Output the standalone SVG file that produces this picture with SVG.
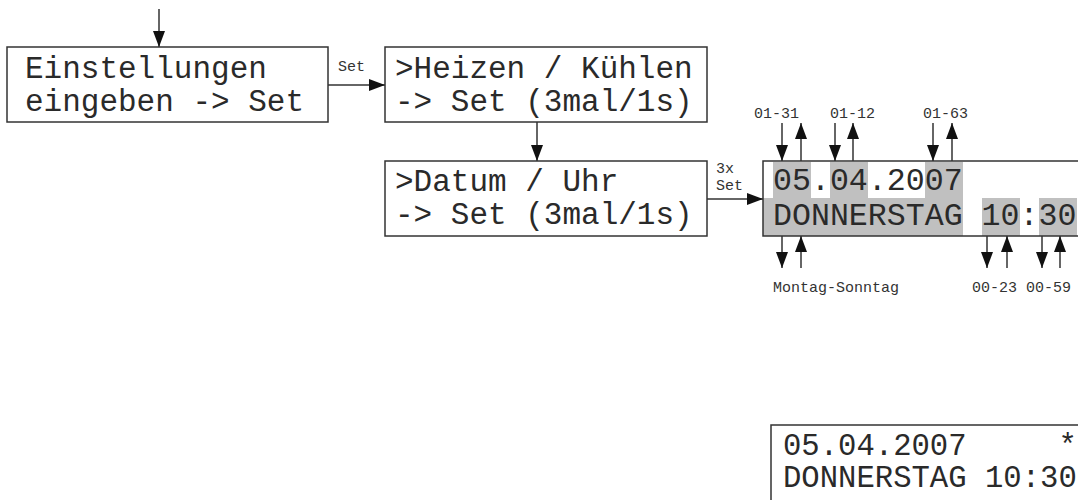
<svg xmlns="http://www.w3.org/2000/svg" width="1078" height="500" viewBox="0 0 1078 500">
<defs>
<marker id="ah" markerUnits="userSpaceOnUse" markerWidth="16" markerHeight="12" refX="16" refY="6" orient="auto">
<path d="M0,0 L16,6 L0,12 Z" fill="#111"/>
</marker>
<style>
.box{fill:#fff;stroke:#333;stroke-width:1.5}
.big{font-family:"Liberation Mono","Courier New",monospace;font-size:31px;fill:#2a2a2a;white-space:pre}
.lcd{font-family:"Liberation Mono","Courier New",monospace;font-size:31.6px;fill:#2a2a2a;white-space:pre}
.lcd2{font-family:"Liberation Mono","Courier New",monospace;font-size:30.6px;fill:#2a2a2a;white-space:pre}
.small{font-family:"Liberation Mono","Courier New",monospace;font-size:15px;fill:#333}
.hl{fill:#c0c0c0}
.con{stroke:#333;stroke-width:1.5;fill:none;marker-end:url(#ah)}
</style>
</defs>
<rect width="1078" height="500" fill="#fff"/>

<g id="connectors">
<line class="con" x1="159" y1="9" x2="159" y2="47"/>
<line class="con" x1="328" y1="85" x2="385" y2="85"/>
<text class="small" x="338" y="71">Set</text>
<line class="con" x1="537" y1="122" x2="537" y2="161"/>
<line class="con" x1="707" y1="199" x2="763" y2="199"/>
<text class="small" x="716" y="173">3x</text>
<text class="small" x="716" y="190">Set</text>
</g>

<g id="node-einstellungen">
<rect class="box" x="7" y="47" width="321" height="75"/>
<text class="big" x="25" y="78">Einstellungen</text>
<text class="big" x="25" y="111">eingeben -&gt; Set</text>
</g>

<g id="node-heizen">
<rect class="box" x="385" y="47" width="322" height="75"/>
<text class="big" x="395" y="78">&gt;Heizen / Kühlen</text>
<text class="big" x="395" y="111">-&gt; Set (3mal/1s)</text>
</g>

<g id="node-datum">
<rect class="box" x="385" y="161" width="322" height="75"/>
<text class="big" x="395" y="191">&gt;Datum / Uhr</text>
<text class="big" x="395" y="224">-&gt; Set (3mal/1s)</text>
</g>

<g id="node-edit-display">
<rect x="763" y="161" width="330" height="75" fill="#fff"/>
<rect class="hl" x="773" y="162" width="38" height="36"/>
<rect class="hl" x="830" y="162" width="38" height="36"/>
<rect class="hl" x="925" y="162" width="38" height="36"/>
<rect class="hl" x="763" y="198" width="200" height="38"/>
<rect class="hl" x="982" y="198" width="38" height="38"/>
<rect class="hl" x="1039" y="198" width="38" height="38"/>
<rect x="763" y="161" width="330" height="75" fill="none" stroke="#333" stroke-width="1.5"/>
<text class="lcd" x="773" y="190">05.04.2007</text>
<text class="lcd" x="773" y="225" xml:space="preserve">DONNERSTAG 10:30</text>
</g>

<g id="range-arrows">
<line class="con" x1="782" y1="123" x2="782" y2="161"/>
<line class="con" x1="801" y1="161" x2="801" y2="123"/>
<line class="con" x1="835" y1="123" x2="835" y2="161"/>
<line class="con" x1="853" y1="161" x2="853" y2="123"/>
<line class="con" x1="933" y1="123" x2="933" y2="161"/>
<line class="con" x1="952" y1="161" x2="952" y2="123"/>
<text class="small" x="754" y="118">01-31</text>
<text class="small" x="830" y="118">01-12</text>
<text class="small" x="923" y="118">01-63</text>

<line class="con" x1="782" y1="236" x2="782" y2="268"/>
<line class="con" x1="801" y1="268" x2="801" y2="236"/>
<line class="con" x1="987" y1="236" x2="987" y2="268"/>
<line class="con" x1="1007" y1="268" x2="1007" y2="236"/>
<line class="con" x1="1042" y1="236" x2="1042" y2="268"/>
<line class="con" x1="1060" y1="268" x2="1060" y2="236"/>
<text class="small" x="773" y="292">Montag-Sonntag</text>
<text class="small" x="972" y="292" xml:space="preserve">00-23 00-59</text>
</g>

<g id="node-display">
<rect class="box" x="771" y="425" width="330" height="90"/>
<text class="lcd2" x="783" y="455" xml:space="preserve">05.04.2007     *</text>
<text class="lcd2" x="783" y="487" xml:space="preserve">DONNERSTAG 10:30</text>
</g>
</svg>
